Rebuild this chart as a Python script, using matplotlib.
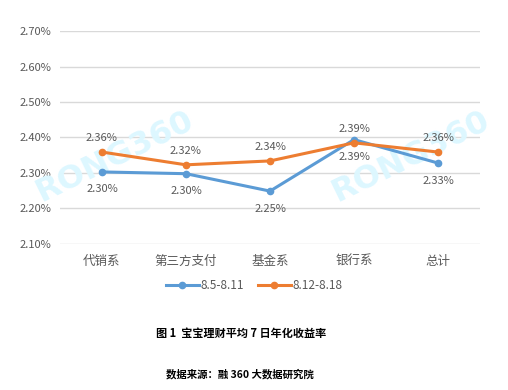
import matplotlib
matplotlib.use("Agg")
import matplotlib.pyplot as plt

plt.rcParams['font.family'] = ['Noto Sans CJK SC', 'DejaVu Sans']

categories = ['代销系', '第三方支付', '基金系', '银行系', '总计']
week1 = [2.303, 2.298, 2.249, 2.394, 2.328]
week2 = [2.359, 2.323, 2.334, 2.385, 2.359]
week1_labels = ['2.30%', '2.30%', '2.25%', '2.39%', '2.33%']
week2_labels = ['2.36%', '2.32%', '2.34%', '2.39%', '2.36%']
series_names = ['8.5-8.11', '8.12-8.18']
yticks = [2.10, 2.20, 2.30, 2.40, 2.50, 2.60, 2.70]

blue = '#5B9BD5'
orange = '#ED7D31'
gray = '#595959'

fig = plt.figure(figsize=(5.08, 3.90), dpi=100)
ax = fig.add_axes([0.118, 0.3744, 0.827, 0.5461])

x = list(range(len(categories)))
ax.plot(x, week1, color=blue, lw=2.2, marker='o', ms=4.5, label=series_names[0], zorder=3)
ax.plot(x, week2, color=orange, lw=2.2, marker='o', ms=4.5, label=series_names[1], zorder=3)

# labels: orange above, blue below
for i in x:
    ax.annotate(week2_labels[i], (i, week2[i]), xytext=(0, 6.5), textcoords='offset points',
                ha='center', va='bottom', fontsize=8, color=gray)
    ax.annotate(week1_labels[i], (i, week1[i]), xytext=(0, -9), textcoords='offset points',
                ha='center', va='top', fontsize=8, color=gray)

ax.set_xlim(-0.5, len(categories) - 0.5)
ax.set_ylim(2.10, 2.70)
ax.set_yticks(yticks)
ax.set_yticklabels(['%.2f%%' % v for v in yticks])
ax.set_xticks(x)
ax.set_xticklabels(categories)
ax.tick_params(axis='both', length=0, colors=gray, labelsize=8)
ax.tick_params(axis='x', labelsize=9, pad=8)
ax.tick_params(axis='y', pad=6)
ax.grid(axis='y', color='#D9D9D9', lw=1)
ax.set_axisbelow(True)
for s in ax.spines.values():
    s.set_visible(False)

# watermark
for wx, wy in [(0.13, 0.41), (0.835, 0.41)]:
    ax.text(wx, wy, 'RONG360', transform=ax.transAxes, fontsize=23, color='#DDF7FF',
            fontweight='bold', rotation=26, ha='center', va='center',
            family='DejaVu Sans', zorder=1)

leg = fig.legend(loc='center', bbox_to_anchor=(0.50, 0.267), ncol=2, frameon=False,
                 fontsize=8.5, handlelength=2.8, columnspacing=1.2, handletextpad=0.1)
for t in leg.get_texts():
    t.set_color(gray)

fig.text(0.475, 0.146, '图 1  宝宝理财平均 7 日年化收益率', ha='center', va='center',
         fontsize=8, color='black', fontweight='bold')
fig.text(0.473, 0.041, '数据来源：融 360 大数据研究院', ha='center', va='center',
         fontsize=7.5, color='black', fontweight='bold')

fig.savefig('out.png', dpi=100)
